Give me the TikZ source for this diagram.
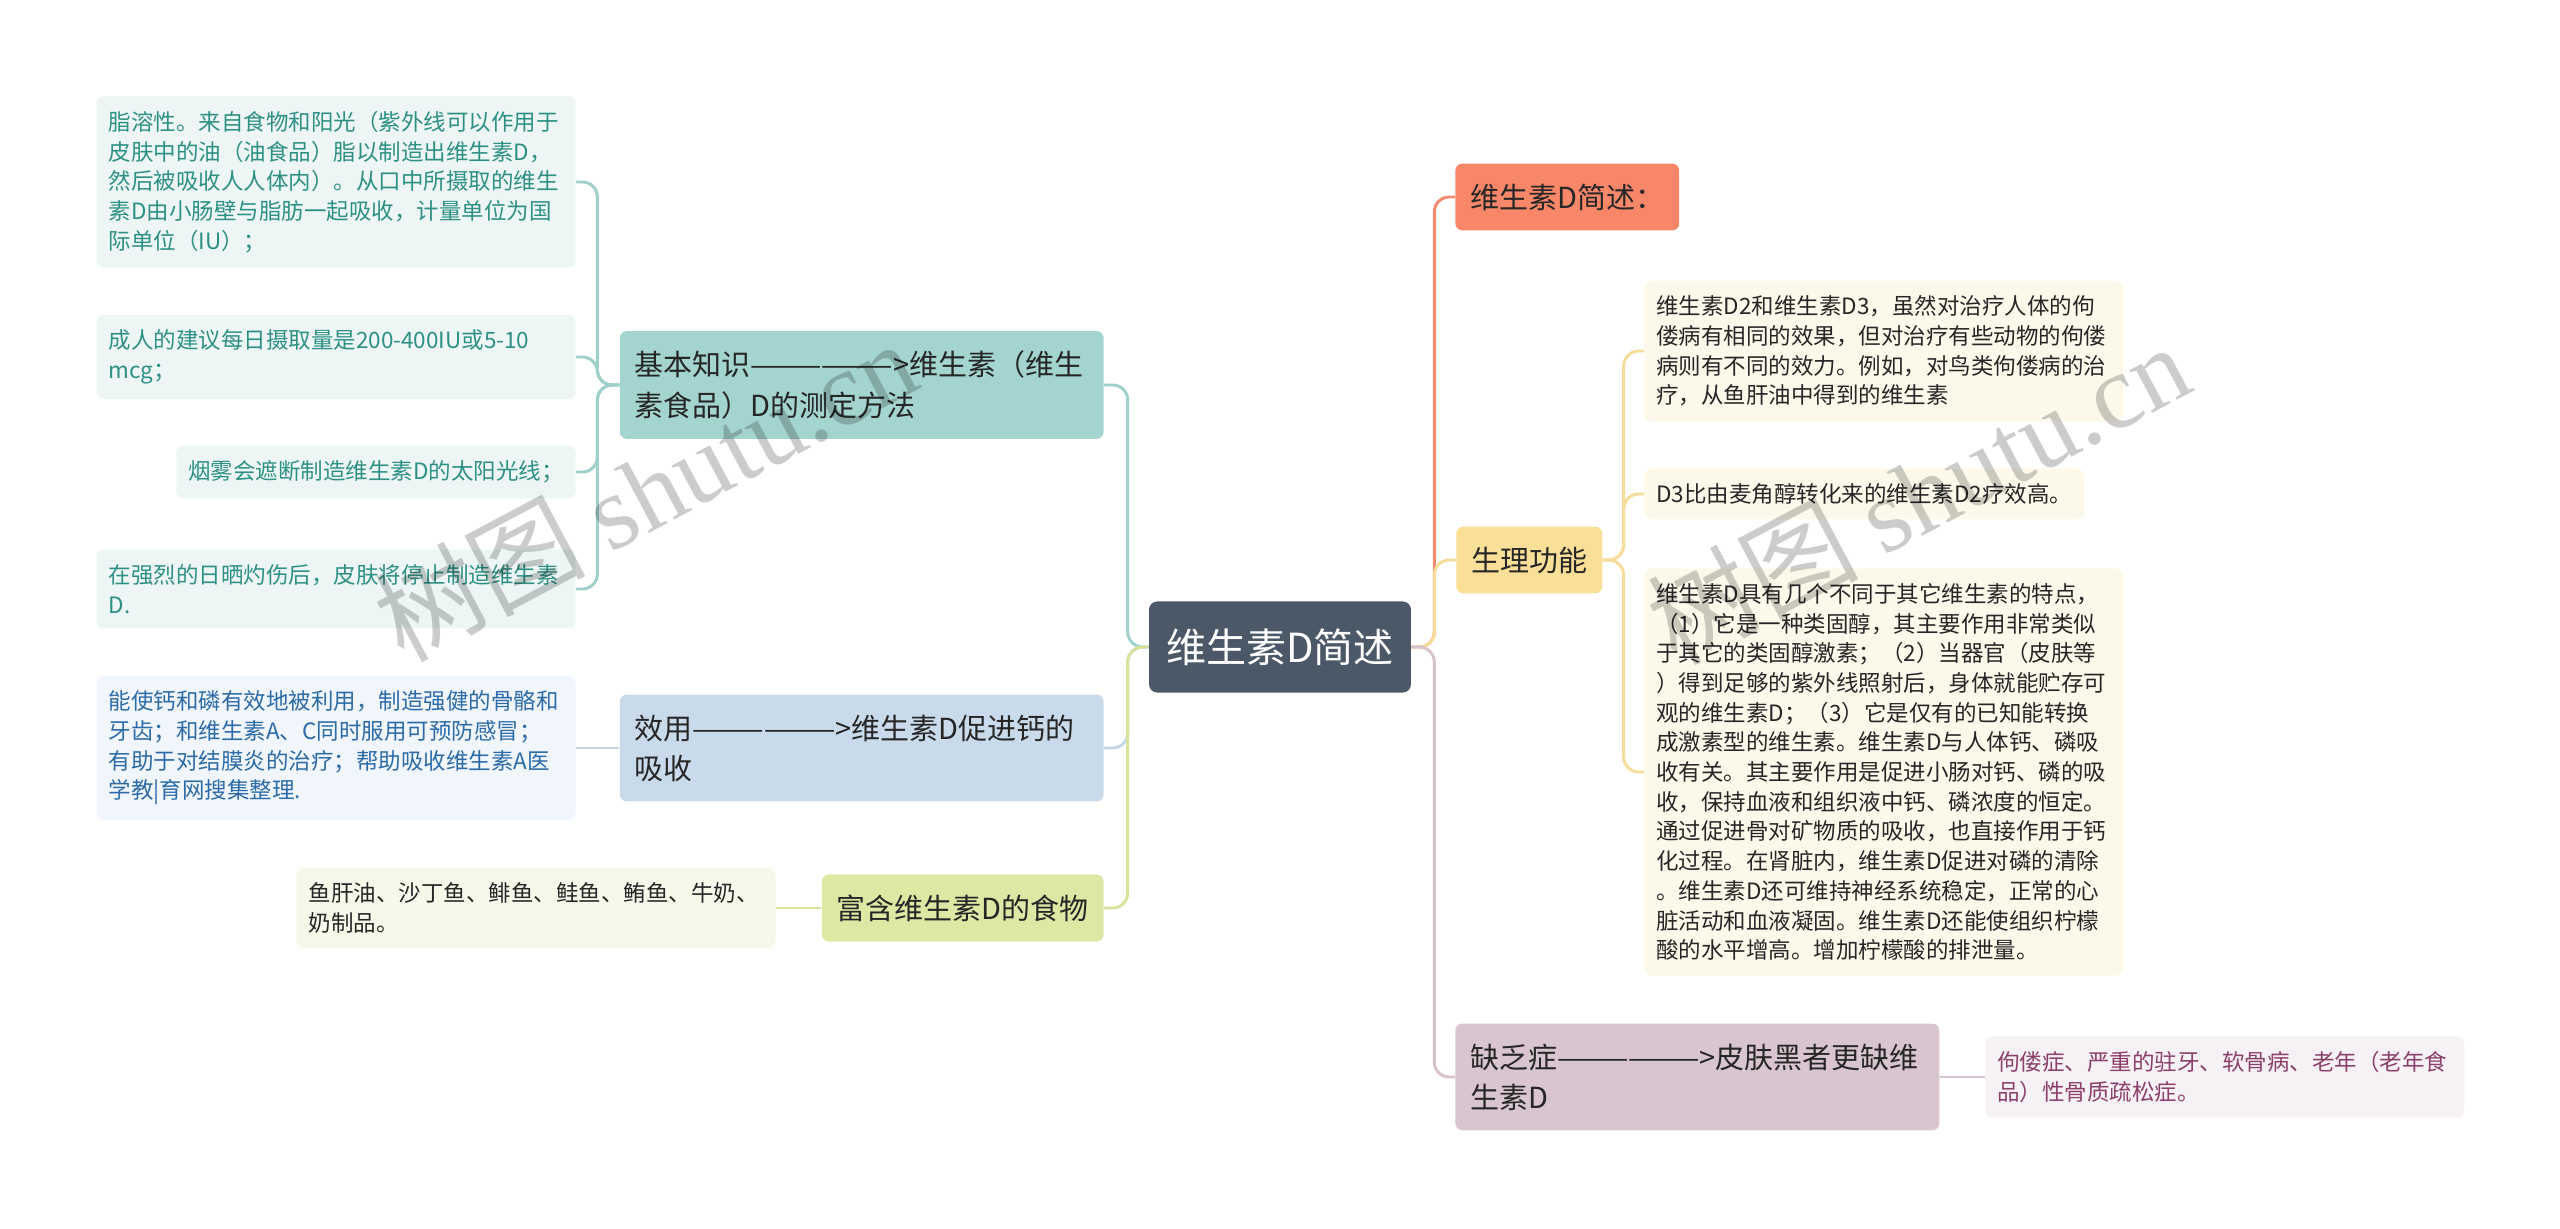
\documentclass[tikz,border=0pt]{standalone}
\usepackage{fontspec}
\setmainfont{Noto Sans CJK SC}
\newfontfamily\wmfont{Liberation Serif}
\usepackage{tikz}

\definecolor{rootfill}{HTML}{4A5868}
\definecolor{darktext}{HTML}{262626}
\definecolor{kbfill}{HTML}{A3D4CF}
\definecolor{kbline}{HTML}{9FD0CB}
\definecolor{kbleaf}{HTML}{EDF6F5}
\definecolor{kbtext}{HTML}{2E9085}
\definecolor{usefill}{HTML}{C9DBEB}
\definecolor{useline}{HTML}{C3D6E8}
\definecolor{useleaf}{HTML}{F0F6FB}
\definecolor{usetext}{HTML}{2C6BA8}
\definecolor{foodfill}{HTML}{DDE8A5}
\definecolor{foodline}{HTML}{D6E49B}
\definecolor{foodleaf}{HTML}{F6F8EA}
\definecolor{sumfill}{HTML}{F8876A}
\definecolor{sumline}{HTML}{F08C70}
\definecolor{physfill}{HTML}{F9DF98}
\definecolor{physline}{HTML}{F5DD99}
\definecolor{physleaf}{HTML}{FDF9EA}
\definecolor{lackfill}{HTML}{D9C5CF}
\definecolor{lackline}{HTML}{D6C3CD}
\definecolor{lackleaf}{HTML}{F6F1F4}
\definecolor{lacktext}{HTML}{8B3F6B}

\begin{document}
\begin{tikzpicture}[
  x=0.02cm, y=-0.02cm,
  root/.style={fill=rootfill, text=white, rounded corners=0.16cm,
    inner xsep=0.34cm, inner ysep=0.54cm, font=\fontsize{22.8}{27}\selectfont},
  branch/.style={rounded corners=0.14cm, inner xsep=0.3cm, inner ysep=0.4cm,
    align=left, text=darktext, font=\fontsize{16.5}{22.8}\selectfont},
  wbranch/.style={branch, text width=9.08cm},
  leaf/.style={rounded corners=0.14cm, inner xsep=0.24cm, inner ysep=0.3cm,
    align=left, font=\fontsize{12.8}{16.9}\selectfont},
  wleaf/.style={leaf, text width=9.1cm},
  link/.style={line width=1.7pt, rounded corners=0.3cm},
  wm/.style={text=black, text opacity=0.2, rotate=28,
    font=\fontsize{60}{60}\selectfont}
]
\useasboundingbox (0,0) rectangle (2560,1229);

% ---------- Root ----------
\node[root] (root) at (1280,647) {维生素D简述};

% ---------- Left branches ----------
\node[wbranch, fill=kbfill, anchor=east] (kb) at (1104,385)
  {\mbox{基本知识——————>维生素（维生}\\素食品）D的测定方法};
\node[wbranch, fill=usefill, anchor=east] (use) at (1104,748)
  {\mbox{效用——————>维生素D促进钙的}\\吸收};
\node[branch, fill=foodfill, anchor=east] (food) at (1104,908)
  {富含维生素D的食物};

\node[wleaf, fill=kbleaf, text=kbtext, anchor=east] (kb1) at (576,182)
  {脂溶性。来自食物和阳光（紫外线可以作用于\\
   皮肤中的油（油食品）脂以制造出维生素D，\\
   然后被吸收人人体内）。从口中所摄取的维生\\
   素D由小肠壁与脂肪一起吸收，计量单位为国\\
   际单位（IU）；};
\node[wleaf, fill=kbleaf, text=kbtext, anchor=east] (kb2) at (576,357)
  {成人的建议每日摄取量是200-400IU或5-10\\mcg；};
\node[leaf, fill=kbleaf, text=kbtext, anchor=east] (kb3) at (576,472)
  {烟雾会遮断制造维生素D的太阳光线；};
\node[wleaf, fill=kbleaf, text=kbtext, anchor=east] (kb4) at (576,589)
  {在强烈的日晒灼伤后，皮肤将停止制造维生素\\D.};
\node[wleaf, fill=useleaf, text=usetext, anchor=east] (use1) at (576,748)
  {能使钙和磷有效地被利用，制造强健的骨骼和\\
   牙齿；和维生素A、C同时服用可预防感冒；\\
   有助于对结膜炎的治疗；帮助吸收维生素A医\\
   学教|育网搜集整理.};
\node[wleaf, fill=foodleaf, text=darktext, anchor=east] (food1) at (776,908)
  {鱼肝油、沙丁鱼、鲱鱼、鲑鱼、鲔鱼、牛奶、\\奶制品。};

% ---------- Right branches ----------
\node[branch, fill=sumfill, anchor=west] (sum) at (1455,197) {维生素D简述：};
\node[branch, fill=physfill, anchor=west] (phys) at (1456,560) {生理功能};
\node[wbranch, fill=lackfill, anchor=west] (lack) at (1455,1077)
  {\mbox{缺乏症——————>皮肤黑者更缺维}\\生素D};

\node[wleaf, fill=physleaf, text=darktext, anchor=west] (phys1) at (1644,351)
  {维生素D2和维生素D3，虽然对治疗人体的佝\\
   偻病有相同的效果，但对治疗有些动物的佝偻\\
   病则有不同的效力。例如，对鸟类佝偻病的治\\
   疗，从鱼肝油中得到的维生素};
\node[leaf, fill=physleaf, text=darktext, anchor=west] (phys2) at (1644,494)
  {D3比由麦角醇转化来的维生素D2疗效高。};
\node[wleaf, fill=physleaf, text=darktext, anchor=west] (phys3) at (1644,772)
  {维生素D具有几个不同于其它维生素的特点，\\
   （1）它是一种类固醇，其主要作用非常类似\\
   于其它的类固醇激素；（2）当器官（皮肤等\\
   ）得到足够的紫外线照射后，身体就能贮存可\\
   观的维生素D；（3）它是仅有的已知能转换\\
   成激素型的维生素。维生素D与人体钙、磷吸\\
   收有关。其主要作用是促进小肠对钙、磷的吸\\
   收，保持血液和组织液中钙、磷浓度的恒定。\\
   通过促进骨对矿物质的吸收，也直接作用于钙\\
   化过程。在肾脏内，维生素D促进对磷的清除\\
   。维生素D还可维持神经系统稳定，正常的心\\
   脏活动和血液凝固。维生素D还能使组织柠檬\\
   酸的水平增高。增加柠檬酸的排泄量。};
\node[wleaf, fill=lackleaf, text=lacktext, anchor=west] (lack1) at (1985,1077)
  {佝偻症、严重的驻牙、软骨病、老年（老年食\\品）性骨质疏松症。};

% ---------- Connectors ----------
\draw[link, kbline]   (root.west) -- ++(-21,0) |- (kb.east);
\draw[link, useline]  (root.west) -- ++(-21,0) |- (use.east);
\draw[link, foodline] (root.west) -- ++(-21,0) |- (food.east);
\foreach \leafname in {kb1,kb2,kb3,kb4}
  \draw[link, kbline] (kb.west) -- ++(-22,0) |- (\leafname.east);
\draw[link, useline]  (use.west) -- (use1.east);
\draw[link, foodline] (food.west) -- (food1.east);

\draw[link, sumline]  (root.east) -- ++(23,0) |- (sum.west);
\draw[link, physline] (root.east) -- ++(23,0) |- (phys.west);
\draw[link, lackline] (root.east) -- ++(23,0) |- (lack.west);
\foreach \leafname in {phys1,phys2,phys3}
  \draw[link, physline] (phys.east) -- ++(21,0) |- (\leafname.west);
\draw[link, lackline] (lack.east) -- (lack1.west);

% ---------- Watermarks ----------
\node[wm] (wmleft) at (645,490) {树图 {\wmfont shutu.cn}};
\node[wm] (wmright) at (1918,493) {树图 {\wmfont shutu.cn}};
\end{tikzpicture}
\end{document}
